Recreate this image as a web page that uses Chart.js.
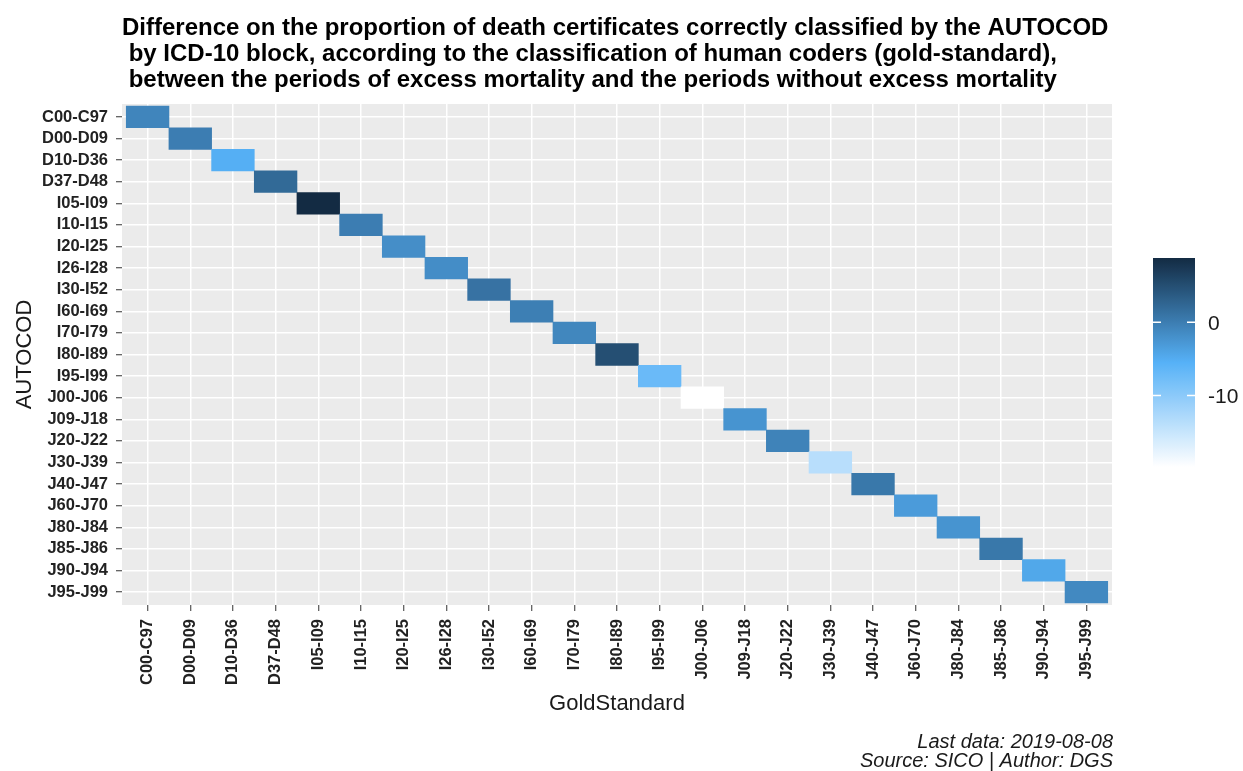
<!DOCTYPE html>
<html>
<head>
<meta charset="utf-8">
<title>AUTOCOD vs GoldStandard</title>
<script src="https://cdn.jsdelivr.net/npm/chart.js@4.4.1/dist/chart.umd.min.js"></script>
<style>
  html, body { margin: 0; padding: 0; background: #fff; }
  #wrap { width: 1243px; height: 771px; position: relative; }
</style>
</head>
<body>
<div id="wrap"><canvas id="heat"></canvas></div>
<script>
"use strict";

// ICD-10 blocks, same order on both axes (AUTOCOD rows, GoldStandard columns)
const blocks = ["C00-C97", "D00-D09", "D10-D36", "D37-D48", "I05-I09", "I10-I15",
                "I20-I25", "I26-I28", "I30-I52", "I60-I69", "I70-I79", "I80-I89",
                "I95-I99", "J00-J06", "J09-J18", "J20-J22", "J30-J39", "J40-J47",
                "J60-J70", "J80-J84", "J85-J86", "J90-J94", "J95-J99"]

// difference in % correctly classified (excess - no excess), one tile per block
const differences = [-0.8, 0.0, -5.3, 2.1, 8.8, 0.0,
                     -1.8, -1.7, 1.2, -0.2, -1.0, 5.0,
                     -7.2, -19.8, -2.4, -0.6, -13.8, 0.6,
                     -3.2, -2.4, 0.6, -4.5, -1.2]

const legendTicks = [0, -10]

const titleLines = [
    "Difference on the proportion of death certificates correctly classified by the AUTOCOD",
    " by ICD-10 block, according to the classification of human coders (gold-standard),",
    " between the periods of excess mortality and the periods without excess mortality"
]
const captionLines = ["Last data: 2019-08-08", "Source: SICO | Author: DGS"]

// fill scale: white -> light blue -> navy over the data range
const scaleColours = [[255, 255, 255], [86, 177, 247], [19, 43, 67]]
const vMin = Math.min(...differences)
const vMax = Math.max(...differences)

function fillFor(v) {
    let t = (v - vMin) / (vMax - vMin) * (scaleColours.length - 1)
    let k = Math.min(Math.floor(t), scaleColours.length - 2)
    let f = t - k
    let a = scaleColours[k], b = scaleColours[k + 1]
    let c = a.map((ch, j) => Math.round(ch + (b[j] - ch) * f))
    return `rgb(${c[0]}, ${c[1]}, ${c[2]})`
}

const fontFamily = '"Liberation Sans", Arial, sans-serif'
Chart.defaults.font.family = fontFamily

// grey panel behind the tiles
const panelBg = {
    id: 'panelBg',
    beforeDraw(chart) {
        const {ctx, chartArea: a} = chart
        ctx.save()
        ctx.fillStyle = '#EBEBEB'
        ctx.fillRect(a.left, a.top, a.right - a.left, a.bottom - a.top)
        ctx.restore()
    }
}

// colour bar legend on the right
const colourBar = {
    id: 'colourBar',
    afterDraw(chart) {
        const ctx = chart.ctx
        const x = 1153, y = 258, w = 42, h = 209
        const toY = v => y + (vMax - v) / (vMax - vMin) * h
        ctx.save()
        let grad = ctx.createLinearGradient(0, y, 0, y + h)
        for (let k = 0; k <= 40; k++) {
            grad.addColorStop(k / 40, fillFor(vMax - k / 40 * (vMax - vMin)))
        }
        ctx.fillStyle = grad
        ctx.fillRect(x, y, w, h)

        ctx.strokeStyle = '#fff'
        ctx.lineWidth = 1.5
        ctx.font = '21px ' + fontFamily
        ctx.fillStyle = '#1a1a1a'
        ctx.textBaseline = 'middle'
        ctx.textAlign = 'left'
        legendTicks.forEach(v => {
            let ty = toY(v)
            ctx.beginPath()
            ctx.moveTo(x, ty); ctx.lineTo(x + 8, ty)
            ctx.moveTo(x + w - 8, ty); ctx.lineTo(x + w, ty)
            ctx.stroke()
            ctx.fillText(String(v), x + w + 13, ty + 2)
        })
        ctx.restore()
    }
}

// title (left aligned on the panel) and caption (bottom right)
const texts = {
    id: 'texts',
    afterDraw(chart) {
        const {ctx, chartArea: a} = chart
        ctx.save()
        ctx.fillStyle = '#000'
        ctx.textBaseline = 'alphabetic'
        ctx.textAlign = 'left'
        ctx.font = 'bold 24px ' + fontFamily
        titleLines.forEach((line, i) => ctx.fillText(line, a.left, 35 + i * 26))

        ctx.fillStyle = '#1a1a1a'
        ctx.textAlign = 'right'
        ctx.font = 'italic 20px ' + fontFamily
        captionLines.forEach((line, i) => ctx.fillText(line, a.right + 1, 748 + i * 19))
        ctx.restore()
    }
}

const tickFont = { size: 16.5, weight: 'bold' }
const gridOpts = { color: '#FFFFFF', lineWidth: 1.5, tickColor: '#333333', tickWidth: 1, tickLength: 6, offset: false }

new Chart(document.getElementById('heat'), {
    type: 'bar',
    data: {
        datasets: [{
            // each tile: column = GoldStandard block, row = AUTOCOD block (diagonal)
            data: blocks.map((b, i) => ({ x: i, y: [i - 0.5, i + 0.5] })),
            backgroundColor: differences.map(fillFor),
            borderWidth: 0,
            barPercentage: 1,
            categoryPercentage: 1
        }]
    },
    options: {
        responsive: true,
        maintainAspectRatio: false,
        animation: false,
        layout: { padding: { left: 12, top: 104, right: 131, bottom: 51 } },
        plugins: {
            legend: { display: false },
            tooltip: { enabled: false }
        },
        scales: {
            x: {
                type: 'linear',
                min: -0.6,
                max: blocks.length - 0.4,
                offset: false,
                afterBuildTicks: s => { s.ticks = blocks.map((b, i) => ({ value: i })) },
                afterFit: s => { s.height = 115 },
                grid: gridOpts,
                border: { display: false },
                ticks: {
                    callback: v => blocks[v],
                    autoSkip: false,
                    minRotation: 90,
                    maxRotation: 90,
                    padding: 8,
                    color: '#222',
                    font: tickFont
                },
                title: {
                    display: true,
                    text: 'GoldStandard',
                    color: '#1a1a1a',
                    font: { size: 22 },
                    padding: { top: 0, bottom: 3 }
                }
            },
            y: {
                type: 'linear',
                reverse: true,
                min: -0.6,
                max: blocks.length - 0.4,
                afterBuildTicks: s => { s.ticks = blocks.map((b, i) => ({ value: i })) },
                afterFit: s => { s.width = 110 },
                grid: gridOpts,
                border: { display: false },
                ticks: {
                    callback: v => blocks[v],
                    autoSkip: false,
                    padding: 8,
                    color: '#222',
                    font: tickFont
                },
                title: {
                    display: true,
                    text: 'AUTOCOD',
                    color: '#1a1a1a',
                    font: { size: 22 },
                    padding: { top: 0, bottom: 0 }
                }
            }
        }
    },
    plugins: [panelBg, colourBar, texts]
});
</script>
</body>
</html>
